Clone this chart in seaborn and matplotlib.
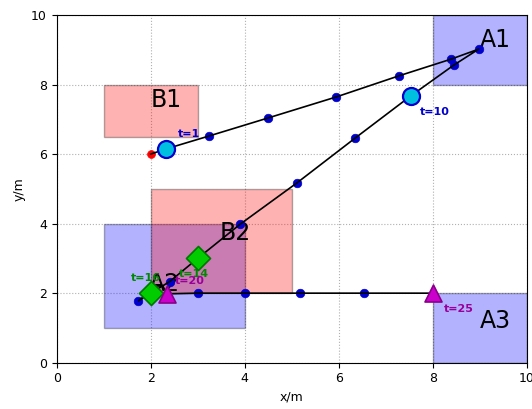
import matplotlib
matplotlib.use("Agg")
import matplotlib.pyplot as plt
from matplotlib.patches import Rectangle
import seaborn as sns
import pandas as pd

# Regions: (name, x0, y0, width, height, colour)
region_names = ["A1", "A2", "A3", "B1", "B2"]
region_x0 = [8, 1, 8, 1, 2]
region_y0 = [8, 1, 0, 6.5, 2]
region_w = [2, 3, 2, 2, 3]
region_h = [2, 3, 2, 1.5, 3]
region_colors = ["blue", "blue", "blue", "red", "red"]
region_label_x = [9.34, 2.3, 9.33, 2.33, 3.8]
region_label_y = [9.27, 2.25, 1.19, 7.56, 3.74]

# Full path of the agent
path_x = [2.0, 2.33, 3.24, 4.5, 5.94, 7.28, 8.39, 8.98, 8.45, 7.53, 6.35, 5.11,
          3.91, 3.0, 2.4, 2.0, 1.74, 2.12, 2.25, 2.35, 3.0, 4.0, 5.18, 6.54, 8.0]
path_y = [6.0, 6.15, 6.52, 7.04, 7.64, 8.25, 8.73, 9.02, 8.56, 7.67, 6.46, 5.17,
          3.99, 3.0, 2.33, 2.0, 1.78, 2.2, 2.22, 1.98, 2.0, 2.0, 2.0, 2.0, 2.0]

# Sampled waypoints
dots_x = [3.24, 4.5, 5.94, 7.28, 8.39, 8.98, 8.45, 6.35, 5.11, 3.91, 2.4, 1.74,
          3.0, 4.0, 5.18, 6.54]
dots_y = [6.52, 7.04, 7.64, 8.25, 8.73, 9.02, 8.56, 6.46, 5.17, 3.99, 2.33, 1.78,
          2.0, 2.0, 2.0, 2.0]
start_x = [2.0]
start_y = [6.0]

# Event markers
event_t = [1, 10, 14, 16, 20, 25]
event_x = [2.33, 7.53, 3.0, 2.0, 2.35, 8.0]
event_y = [6.15, 7.67, 3.0, 2.0, 1.98, 2.0]
event_kind = ["visit", "visit", "pick", "pick", "drop", "drop"]
label_dx = [0.24, 0.2, -0.39, -0.43, 0.17, 0.23]
label_dy = [0.42, -0.45, -0.45, 0.44, 0.38, -0.46]

styles = {
    "visit": dict(marker="o", s=150, color="#00c0e0", edgecolor="#0000cc",
                  linewidth=1.6, text="#0000cc"),
    "pick": dict(marker="D", s=150, color="#00cc00", edgecolor="#007700",
                 linewidth=1.2, text="#008800"),
    "drop": dict(marker="^", s=150, color="#cc00cc", edgecolor="#880088",
                 linewidth=1.2, text="#990099"),
}

fig = plt.figure(figsize=(5.32, 4.09), dpi=100)
ax = fig.add_axes([0.1066, 0.1132, 0.8834, 0.8501])

for name, x0, y0, w, h, c, lx, ly in zip(region_names, region_x0, region_y0,
                                          region_w, region_h, region_colors,
                                          region_label_x, region_label_y):
    ax.add_patch(Rectangle((x0, y0), w, h, facecolor=c, edgecolor="k",
                           alpha=0.3, linewidth=1.0, zorder=1))
    ax.text(lx, ly, name, fontsize=17, ha="center", va="center", zorder=2.2)

sns.scatterplot(x=dots_x, y=dots_y, ax=ax, color="#0000cc", s=38,
                edgecolor="#0000cc", linewidth=0.5, zorder=2.4)
sns.scatterplot(x=start_x, y=start_y, ax=ax, color="red", s=32,
                edgecolor="red", linewidth=0.5, zorder=2.4)

path_df = pd.DataFrame({"x": path_x, "y": path_y})
sns.lineplot(data=path_df, x="x", y="y", sort=False, estimator=None, ax=ax,
             color="black", linewidth=1.2, zorder=2.5)

for t, x, y, k, dx, dy in zip(event_t, event_x, event_y, event_kind,
                              label_dx, label_dy):
    st = styles[k]
    sns.scatterplot(x=[x], y=[y], ax=ax, marker=st["marker"], s=st["s"],
                    color=st["color"], edgecolor=st["edgecolor"],
                    linewidth=st["linewidth"], zorder=4)
    ax.text(x + dx, y + dy, f"t={t}", color=st["text"], fontsize=8,
            fontweight="bold", ha="left", va="center", zorder=3)

ax.set_xlim(0, 10)
ax.set_ylim(0, 10)
ax.set_xticks([0, 2, 4, 6, 8, 10])
ax.set_yticks([0, 2, 4, 6, 8, 10])
ax.tick_params(labelsize=9)
ax.grid(True, linestyle=":", color="#b0b0b0", linewidth=0.8)
ax.set_axisbelow(True)
ax.set_xlabel("x/m", fontsize=9)
ax.set_ylabel("y/m", fontsize=9)

fig.savefig("out.png", dpi=100)
